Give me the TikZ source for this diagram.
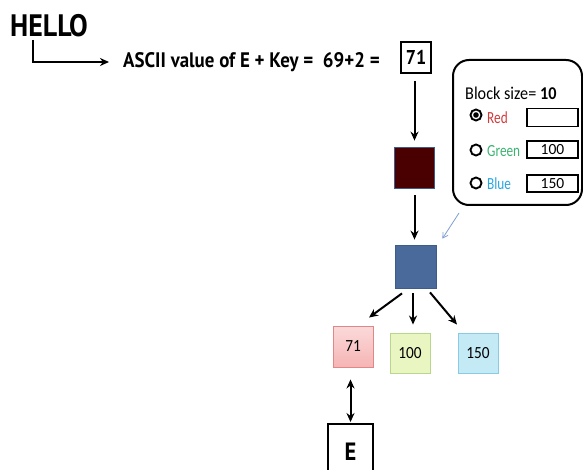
\documentclass[tikz,border=0pt]{standalone}
\usepackage{fontspec}
\setmainfont{Carlito}
\newfontfamily\cond[FakeStretch=0.9]{PT Sans}
\newfontfamily\narrowcal[FakeStretch=0.78]{Carlito}
\newfontfamily\semical[FakeStretch=0.9]{Carlito}
\usetikzlibrary{arrows.meta}
\definecolor{darkred}{HTML}{4A0000}
\definecolor{steel}{HTML}{4A6A9C}
\definecolor{steeledge}{HTML}{3E5C8A}
\definecolor{pinkfill}{HTML}{F6B4B4}
\definecolor{pinktop}{HTML}{FBDADA}
\definecolor{pinkedge}{HTML}{E08888}
\definecolor{limefill}{HTML}{EAF6C2}
\definecolor{limeedge}{HTML}{B8D68C}
\definecolor{cyanfill}{HTML}{C4EAF6}
\definecolor{cyanedge}{HTML}{8ACBE4}
\definecolor{redtxt}{HTML}{D03A3A}
\definecolor{greentxt}{HTML}{3CB371}
\definecolor{bluetxt}{HTML}{2AA6DE}
\definecolor{thinarrow}{HTML}{7F9FCF}
\tikzset{
  arr/.style={line width=2pt, -{Stealth[length=9pt,width=8pt]}},
  darr/.style={line width=2pt, {Stealth[length=9pt,width=8pt]}-{Stealth[length=9pt,width=8pt]}},
  sqbox/.style={draw=steeledge, line width=0.8pt, inner sep=0pt},
  valbox/.style={line width=0.9pt, inner sep=0pt, minimum width=40pt, minimum height=40pt, font=\semical\fontsize{17}{17}\selectfont},
  fieldbox/.style={draw, line width=1.6pt, inner sep=0pt, minimum width=51pt, minimum height=17pt, font=\fontsize{15.5}{15.5}\selectfont},
  radio/.style={circle, draw, line width=1.9pt, inner sep=0pt, minimum size=11pt},
  lbl/.style={anchor=west, inner sep=0pt, font=\narrowcal\fontsize{17}{17}\selectfont},
}
\begin{document}
\begin{tikzpicture}[x=1pt,y=-1pt]
\useasboundingbox (0,0) rectangle (583,470);
\clip (0,0) rectangle (583,470);

% top text
\node[anchor=west, inner sep=0pt, font=\cond\bfseries\fontsize{31}{31}\selectfont] (hello) at (10,26) {HELLO};
\coordinate (hb) at (33,40);
\node[anchor=west, inner sep=0pt, font=\cond\bfseries\fontsize{21}{21}\selectfont] (ascii) at (123,62) {ASCII value of E + Key =\ \ 69+2 =};
\draw[arr] (hb) |- ([xshift=-14pt]ascii.west);

\node[draw, line width=1.8pt, minimum width=30pt, minimum height=31pt, inner sep=0pt,
      font=\cond\bfseries\fontsize{20}{20}\selectfont] (key) at (416,57.5) {71};

% squares
\node[sqbox, fill=darkred, minimum width=40pt, minimum height=41pt] (dark) at (414.5,167.5) {};
\node[sqbox, fill=steel, minimum width=41pt, minimum height=43pt] (blue) at (415.5,266.5) {};
\draw[arr, shorten <=7pt, shorten >=6pt] (key.south -| dark.north) -- (dark.north);
\draw[arr, shorten <=7pt, shorten >=5pt] (dark.south) -- (dark.south |- blue.north);

% panel
\node[draw, line width=2pt, rounded corners=16pt, minimum width=129pt, minimum height=145pt, inner sep=0pt] (panel) at (517.5,132.5) {};
\node[anchor=west, inner sep=0pt, font=\semical\fontsize{18}{18}\selectfont] (bs) at (465,93) {Block size= \textbf{10}};
\node[radio] (r1) at (476,115) {};
\fill (r1.center) circle (2.8pt);
\node[radio] (r2) at (476,150) {};
\node[radio] (r3) at (476,183) {};
\node[lbl, text=redtxt] (lred) at (487,118) {Red};
\node[lbl, text=greentxt] (lgreen) at (487,151) {Green};
\node[lbl, text=bluetxt] (lblue) at (487,184) {Blue};
\node[fieldbox, minimum height=18pt] (f1) at (552.5,117.5) {};
\node[fieldbox] (f2) at (552.5,149.5) {100};
\node[fieldbox] (f3) at (552.5,183.5) {150};

\coordinate (tp) at (459,213);
\draw[thinarrow, line width=0.8pt, -{Straight Barb[length=5pt,width=6pt]}] (tp) -- ([shift={(6,-6)}]blue.north east);

% value boxes
\node[valbox, draw=pinkedge, top color=pinktop, bottom color=pinkfill, minimum height=41pt] (v1) at (353,346.5) {71};
\node[valbox, draw=limeedge, fill=limefill] (v2) at (410,353) {100};
\node[valbox, draw=cyanedge, fill=cyanfill] (v3) at (478,353) {150};

\draw[arr] ([shift={(-13.5,5)}]blue.south) -- ([shift={(16,-8)}]v1.north);
\draw[arr] ([shift={(-2.5,5)}]blue.south) -- ([shift={(3,-8)}]v2.north);
\draw[arr] ([shift={(14.5,4)}]blue.south) -- ([shift={(-21,-8)}]v3.north);

% E box
\node[draw, line width=1.9pt, minimum width=45pt, minimum height=60pt, inner sep=0pt] (ebox) at (350.5,454) {};
\node[inner sep=0pt, font=\cond\bfseries\fontsize{25}{25}\selectfont] (etxt) at (350.5,452) {E};
\draw[darr, shorten <=12pt, shorten >=1pt] (v1.south -| ebox.north) -- (ebox.north);
\end{tikzpicture}
\end{document}
